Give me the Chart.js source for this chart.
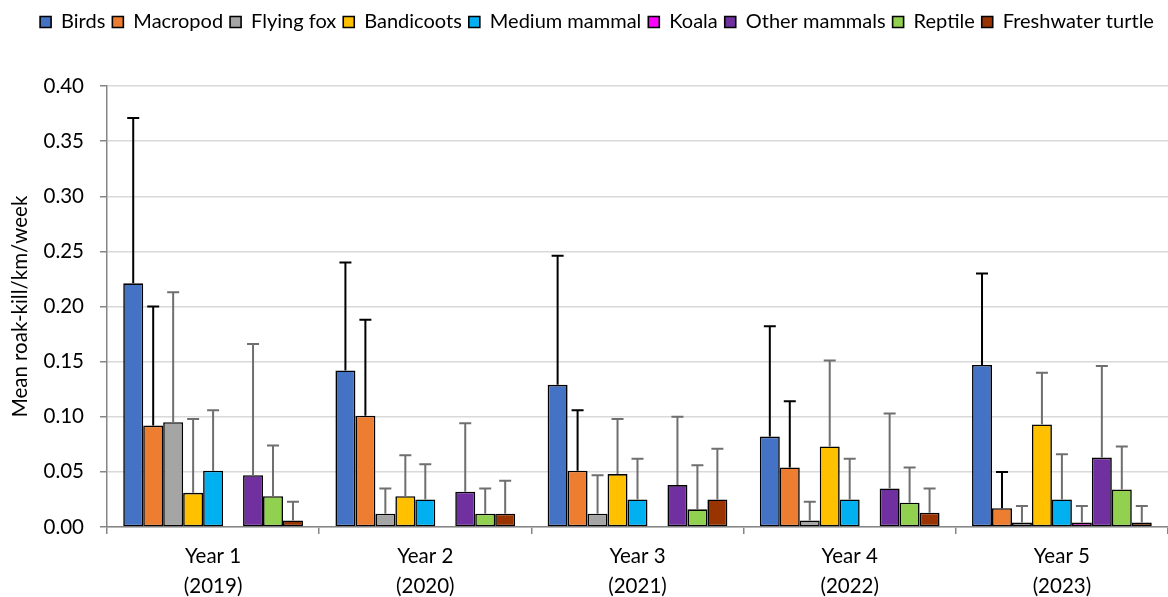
<!DOCTYPE html>
<html>
<head>
<meta charset="utf-8">
<script src="https://cdn.jsdelivr.net/npm/chart.js@4.4.1/dist/chart.umd.min.js"></script>
<style>
  html, body { margin: 0; padding: 0; background: #ffffff; }
  #wrap { width: 1168px; height: 597px; position: relative; }
</style>
</head>
<body>
<div id="wrap"><canvas id="c"></canvas></div>
<script>
// Survey years
const categories = [['Year 1', '(2019)'], ['Year 2', '(2020)'], ['Year 3', '(2021)'], ['Year 4', '(2022)'], ['Year 5', '(2023)']];

// Mean road-kill per km per week, by taxon and year
const birds       = [0.221, 0.142, 0.129, 0.082, 0.147];
const macropod    = [0.092, 0.101, 0.051, 0.054, 0.017];
const flyingFox   = [0.095, 0.012, 0.012, 0.006, 0.004];
const bandicoots  = [0.031, 0.028, 0.048, 0.073, 0.093];
const mediumMammal= [0.051, 0.025, 0.025, 0.025, 0.025];
const koala       = [null, null, null, null, 0.004];
const otherMammals= [0.047, 0.032, 0.038, 0.035, 0.063];
const reptile     = [0.028, 0.012, 0.016, 0.022, 0.034];
const turtle      = [0.006, 0.012, 0.025, 0.013, 0.004];

// Upper error (standard deviation) for each taxon and year
const birdsErr       = [0.150, 0.098, 0.117, 0.100, 0.083];
const macropodErr    = [0.108, 0.087, 0.055, 0.060, 0.033];
const flyingFoxErr   = [0.118, 0.023, 0.035, 0.017, 0.015];
const bandicootsErr  = [0.067, 0.037, 0.050, 0.078, 0.047];
const mediumMammalErr= [0.055, 0.032, 0.037, 0.037, 0.041];
const koalaErr       = [null, null, null, null, 0.015];
const otherMammalsErr= [0.119, 0.062, 0.062, 0.068, 0.083];
const reptileErr     = [0.046, 0.023, 0.040, 0.032, 0.039];
const turtleErr      = [0.017, 0.030, 0.046, 0.022, 0.015];

// Y axis range and step
const yMin = 0, yMax = 0.40, yStep = 0.05;

const FONT = 'Lato, "Open Sans", sans-serif';

const series = [
  { label: 'Birds',             data: birds,        err: birdsErr,        color: '#4472C4', errColor: '#000000' },
  { label: 'Macropod',          data: macropod,     err: macropodErr,     color: '#ED7D31', errColor: '#000000' },
  { label: 'Flying fox',        data: flyingFox,    err: flyingFoxErr,    color: '#A5A5A5', errColor: '#6f6f6f' },
  { label: 'Bandicoots',        data: bandicoots,   err: bandicootsErr,   color: '#FFC000', errColor: '#6f6f6f' },
  { label: 'Medium mammal',     data: mediumMammal, err: mediumMammalErr, color: '#00B0F0', errColor: '#6f6f6f' },
  { label: 'Koala',             data: koala,        err: koalaErr,        color: '#FF00FF', errColor: '#6f6f6f' },
  { label: 'Other mammals',     data: otherMammals, err: otherMammalsErr, color: '#7030A0', errColor: '#6f6f6f' },
  { label: 'Reptile',           data: reptile,      err: reptileErr,      color: '#92D050', errColor: '#6f6f6f' },
  { label: 'Freshwater turtle', data: turtle,       err: turtleErr,       color: '#993300', errColor: '#6f6f6f' }
];

// Upper-only error bars with a cap, drawn above each bar
const errorBars = {
  id: 'errorBars',
  afterDatasetsDraw(chart) {
    const ctx = chart.ctx;
    const y = chart.scales.y;
    chart.data.datasets.forEach((ds, i) => {
      const meta = chart.getDatasetMeta(i);
      if (meta.hidden) return;
      meta.data.forEach((bar, j) => {
        const v = ds.data[j], e = ds.errorValues[j];
        if (v == null || e == null) return;
        const top = y.getPixelForValue(v + e);
        ctx.save();
        ctx.strokeStyle = ds.errorColor;
        ctx.lineWidth = 2;
        ctx.beginPath();
        ctx.moveTo(bar.x, bar.y);
        ctx.lineTo(bar.x, top);
        ctx.moveTo(bar.x - 6, top);
        ctx.lineTo(bar.x + 6, top);
        ctx.stroke();
        ctx.restore();
      });
    });
  }
};

// Extra space under the legend, and a small shift of the legend row to the right
const legendPlacement = {
  id: 'legendPlacement',
  beforeInit(chart) {
    const fit = chart.legend.fit;
    chart.legend.fit = function () {
      fit.call(this);
      this.height += 44;
    };
  },
  afterLayout(chart) {
    chart.legend.left += 13;
    chart.legend.right += 13;
  }
};

new Chart(document.getElementById('c'), {
  type: 'bar',
  data: {
    labels: categories,
    datasets: series.map(s => ({
      label: s.label,
      data: s.data,
      errorValues: s.err,
      errorColor: s.errColor,
      backgroundColor: s.color,
      borderColor: '#000000',
      borderWidth: 1.6,
      borderSkipped: false,
      categoryPercentage: 0.847,
      barPercentage: 1.0
    }))
  },
  plugins: [errorBars, legendPlacement],
  options: {
    responsive: true,
    maintainAspectRatio: false,
    animation: false,
    layout: { padding: { left: 0, right: 0, top: 5, bottom: 0 } },
    plugins: {
      tooltip: { enabled: false },
      legend: {
        position: 'top',
        align: 'center',
        labels: {
          boxWidth: 11,
          boxHeight: 11,
          padding: 7,
          color: '#000000',
          font: { family: FONT, size: 20 }
        }
      }
    },
    scales: {
      x: {
        offset: true,
        grid: {
          display: true,
          drawOnChartArea: false,
          drawTicks: true,
          tickLength: 7,
          color: '#868686',
          lineWidth: 1.5
        },
        border: { display: true, color: '#868686', width: 1.5 },
        ticks: {
          color: '#000000',
          padding: 7,
          maxRotation: 0,
          font: { family: FONT, size: 20.5, lineHeight: 1.46 }
        },
        afterFit(scale) { scale.height = 70; }
      },
      y: {
        min: yMin,
        max: yMax,
        grid: {
          color: '#d9d9d9',
          lineWidth: 1.5,
          tickColor: '#868686',
          tickLength: 7
        },
        border: { display: true, color: '#868686', width: 1.5 },
        ticks: {
          stepSize: yStep,
          color: '#000000',
          padding: 16,
          font: { family: FONT, size: 20.5 },
          callback: v => Number(v).toFixed(2)
        },
        title: {
          display: true,
          text: 'Mean roak-kill/km/week',
          color: '#000000',
          font: { family: FONT, size: 20.5 },
          padding: { top: 8, bottom: 0 }
        },
        afterFit(scale) { scale.width = 107; }
      }
    }
  }
});
</script>
</body>
</html>
